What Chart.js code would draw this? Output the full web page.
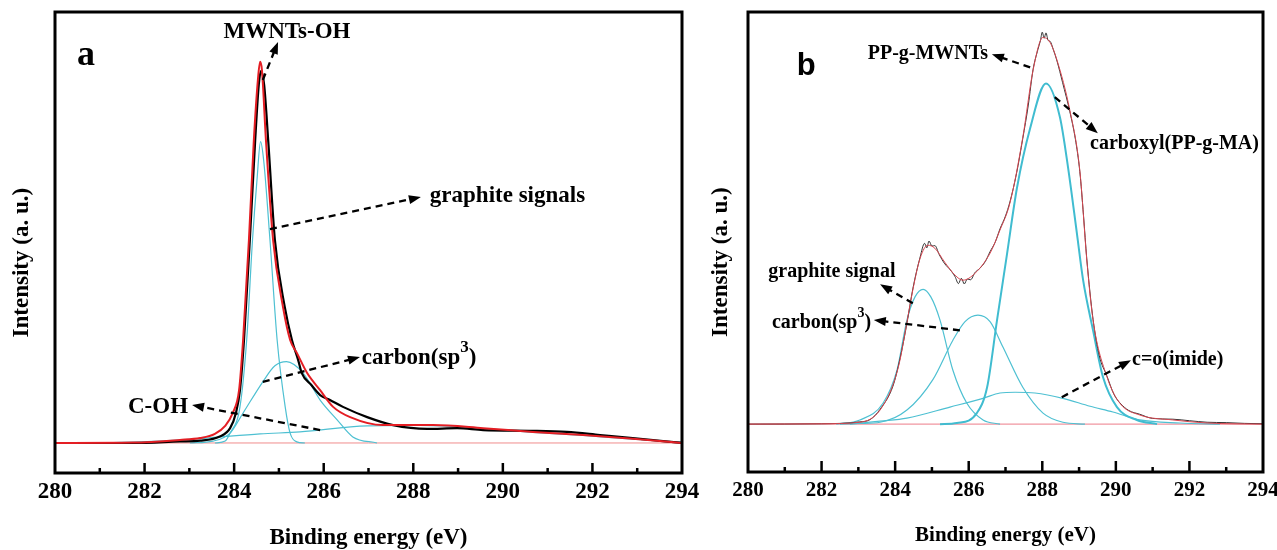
<!DOCTYPE html>
<html>
<head>
<meta charset="utf-8">
<script src="https://cdn.jsdelivr.net/npm/chart.js@4.4.0/dist/chart.umd.min.js"></script>
<style>
  html, body { margin: 0; padding: 0; background: #fff; }
  #wrapA { position: absolute; left: 0; top: 0; width: 700px; height: 550px; }
  #wrapB { position: absolute; left: 700px; top: 0; width: 577px; height: 550px; }
</style>
</head>
<body>
<div id="wrapA"><canvas id="chartA" width="700" height="550"></canvas></div>
<div id="wrapB"><canvas id="chartB" width="577" height="550"></canvas></div>
<script>
// binding energy (eV), intensity (a.u.)
const energyTicks = [280, 282, 284, 286, 288, 290, 292, 294];
const minorTicks = [281, 282, 283, 284, 285, 286, 287, 288, 289, 290, 291, 292, 293];

// panel a : MWNTs-OH
const aFit = [[280,0],[281.74,0.1],[282.79,0.8],[283.24,1.3],[283.57,2.4],[283.80,4.5],[283.97,7.9],[284.11,13.9],[284.20,27.1],[284.33,53.4],[284.44,79.7],[284.53,95.5],[284.58,100.3],[284.62,98.2],[284.71,79.7],[284.87,53.4],[285.09,35.8],[285.25,27.1],[285.40,23.7],[285.63,18.4],[285.92,13.9],[286.21,9.5],[286.59,6.8],[287.32,4.7],[288.44,4.7],[289.56,3.9],[290.67,2.9],[291.79,2.1],[292.90,1.1],[294,0]];
const aExp = [[280,0],[281.74,0],[282.79,0.4],[283.24,0.6],[283.68,1.7],[283.91,3.9],[284.04,7.9],[284.13,13.9],[284.22,27.1],[284.35,53.4],[284.47,79.7],[284.55,94.2],[284.60,97.9],[284.67,94.2],[284.76,79.7],[284.91,53.4],[285.13,35.8],[285.29,27.1],[285.43,21.8],[285.51,18.4],[285.72,15.3],[285.92,12.6],[286.14,11.3],[286.43,9.5],[286.97,6.8],[287.55,4.7],[288.31,3.7],[288.98,3.9],[289.56,3.4],[290.67,3.2],[291.43,2.9],[292.17,2.1],[292.90,1.3],[294,0]];
const aGraphite = [[283.57,0],[283.80,0.5],[283.91,2.6],[284.13,9.5],[284.28,27.1],[284.41,53.4],[284.51,69.2],[284.59,79.3],[284.66,74.3],[284.80,53.4],[284.96,27.1],[285.14,9.5],[285.25,2.6],[285.40,0.3],[285.58,0]];
const aSp3 = [[283.01,0],[283.53,0.5],[283.91,2.6],[284.20,7.9],[284.64,16.1],[284.91,20.3],[285.17,21.4],[285.54,18.4],[285.92,11.3],[286.30,6.1],[286.65,1.6],[287.19,0]];
const aCOH = [[281.00,0],[282.34,0.5],[283.39,1.3],[284.58,2.4],[285.47,2.9],[286.97,4.5],[288.15,4.6],[289.56,3.8],[290.67,2.8],[291.79,2.0],[292.90,1.0],[294,0.2]];

// panel b : PP-g-MWNTs
const bFit = [[280,0],[282.0,0.1],[283.04,0.5],[283.32,1.3],[283.59,3.7],[283.94,10.3],[284.13,16.8],[284.32,26.8],[284.48,35.3],[284.68,43.7],[284.89,47.1],[285.08,46.3],[285.35,42.6],[285.63,39.2],[285.84,37.9],[286.17,39.7],[286.58,45.0],[286.85,51.1],[287.12,58.2],[287.47,75.5],[287.75,93.2],[288.02,101.8],[288.21,100.5],[288.40,95.8],[288.75,82.6],[289.02,66.8],[289.21,43.2],[289.38,27.4],[289.76,12.4],[290.11,5.5],[290.65,2.4],[291.55,1.1],[292.48,0.3],[294,0]];
const bExp = [[280,0],[282.0,0.1],[283.04,0.6],[283.32,1.2],[283.59,3.9],[283.94,10.0],[284.13,17.2],[284.32,26.5],[284.48,35.6],[284.68,44.0],[284.80,47.6],[284.86,46.4],[284.92,48.2],[285.00,46.9],[285.08,47.0],[285.20,44.6],[285.35,42.2],[285.50,40.6],[285.63,38.8],[285.72,37.0],[285.80,38.4],[285.88,36.9],[285.96,38.2],[286.05,38.0],[286.17,39.9],[286.30,41.0],[286.45,42.8],[286.58,45.4],[286.72,47.9],[286.85,51.4],[287.00,54.8],[287.12,58.5],[287.30,66.0],[287.47,75.2],[287.62,84.0],[287.75,93.4],[287.88,98.6],[287.95,101.0],[288.00,103.2],[288.05,101.6],[288.10,103.0],[288.16,101.0],[288.21,100.8],[288.30,98.6],[288.40,95.6],[288.55,90.0],[288.75,82.2],[288.90,75.0],[289.02,66.5],[289.12,55.0],[289.21,43.5],[289.38,27.6],[289.55,18.0],[289.76,12.6],[289.95,7.8],[290.11,5.6],[290.35,3.6],[290.65,2.6],[291.00,1.5],[291.55,1.3],[292.00,0.9],[292.48,0.5],[293.00,0.4],[293.50,0.2],[294,0.1]];
const bGraphite = [[282.4,0],[283.04,1.1],[283.67,5.5],[284.05,14.2],[284.32,27.4],[284.54,33.5],[284.76,35.5],[284.97,33.5],[285.22,27.4],[285.57,14.2],[285.95,5.5],[286.39,1.1],[286.85,0]];
const bSp3 = [[282.5,0],[283.04,0.2],[283.59,0.5],[284.32,3.7],[285.03,11.8],[285.57,22.1],[285.90,27.0],[286.25,28.7],[286.58,27.0],[286.93,20.3],[287.47,9.7],[288.02,2.9],[288.56,0.5],[289.16,0]];
const bCarboxyl = [[285.22,0],[285.68,0.3],[286.22,2.9],[286.50,9.7],[286.77,27.4],[287.04,44.7],[287.31,62.1],[287.67,77.9],[288.10,89.7],[288.48,80.8],[288.70,67.6],[288.94,50.3],[289.11,37.9],[289.38,24.7],[289.65,12.4],[290.03,4.5],[290.57,1.1],[291.12,0]];
const bImide = [[282.77,0],[283.59,0.8],[284.32,1.6],[285.49,4.5],[286.39,6.8],[286.85,8.2],[287.26,8.4],[287.80,8.2],[288.56,6.8],[289.30,4.7],[289.92,3.2],[290.65,1.1],[291.74,0.3],[292.83,0]];
const baseLine = [[280,0],[294,0]];

// labels and arrows (eV, a.u.)
const aNotes = [
  { t: "MWNTs-OH", x: 285.18, y: 108.2, align: "center" },
  { t: "graphite signals", x: 288.37, y: 65.0 },
  { t: "carbon(sp", sup: "3", tail: ")", x: 286.85, y: 22.4 },
  { t: "C-OH", x: 281.63, y: 9.5 },
];
const aArrows = [[284.64,95.5,284.98,105.5],[284.80,56.3,288.17,64.7],[284.64,16.1,286.81,22.6],[285.92,3.4,283.06,10.0]];
const bNotes = [
  { t: "PP-g-MWNTs", x: 284.89, y: 97.6, align: "center" },
  { t: "carboxyl(PP-g-MA)", x: 289.30, y: 73.9 },
  { t: "graphite signal", x: 282.28, y: 40.0, align: "center" },
  { t: "carbon(sp", sup: "3", tail: ")", x: 280.65, y: 26.8 },
  { t: "c=o(imide)", x: 290.44, y: 16.8 },
];
const bArrows = [[287.67,93.9,286.63,97.4],[288.34,86.1,289.51,76.6],[284.48,31.8,283.59,36.8],[285.76,24.7,283.42,27.4],[288.53,7.1,290.41,16.8]];

const serif = "'Liberation Serif', 'Times New Roman', serif";
const CYAN = "rgb(78,192,210)";

function line(data, color, width, order) {
  return {
    data: data.map(p => ({ x: p[0], y: p[1] })),
    borderColor: color,
    borderWidth: width,
    pointRadius: 0,
    fill: false,
    cubicInterpolationMode: "monotone",
    order: order,
  };
}

function arrow(ctx, x1, y1, x2, y2) {
  const ang = Math.atan2(y2 - y1, x2 - x1);
  const head = 12, half = 4.5;
  const c = Math.cos(ang), s = Math.sin(ang);
  ctx.setLineDash([7, 5]);
  ctx.lineWidth = 2.3;
  ctx.beginPath();
  ctx.moveTo(x1, y1);
  ctx.lineTo(x2 - c * head * 0.8, y2 - s * head * 0.8);
  ctx.stroke();
  ctx.setLineDash([]);
  ctx.beginPath();
  ctx.moveTo(x2, y2);
  ctx.lineTo(x2 - head * c + half * s, y2 - head * s - half * c);
  ctx.lineTo(x2 - head * c - half * s, y2 - head * s + half * c);
  ctx.closePath();
  ctx.fill();
}

function note(ctx, n, px, py, size) {
  const big = "bold " + size + "px " + serif;
  const small = "bold " + Math.round(size * 0.72) + "px " + serif;
  ctx.textBaseline = "middle";
  ctx.textAlign = "left";
  ctx.font = big;
  const w = ctx.measureText(n.t).width;
  let supW = 0, tailW = 0;
  if (n.sup) {
    tailW = ctx.measureText(n.tail).width;
    ctx.font = small;
    supW = ctx.measureText(n.sup).width;
  }
  const total = w + supW + tailW;
  const sx = n.align === "center" ? px - total / 2 : px;
  ctx.font = big;
  ctx.fillText(n.t, sx, py);
  if (n.sup) {
    ctx.fillText(n.tail, sx + w + supW, py);
    ctx.font = small;
    ctx.fillText(n.sup, sx + w, py - size * 0.45);
  }
}

function decoPlugin(p) {
  return {
    id: "deco",
    afterDraw(chart) {
      const { ctx, chartArea: a } = chart;
      const xs = chart.scales.x, ys = chart.scales.y;
      ctx.save();
      ctx.strokeStyle = "#000";
      ctx.fillStyle = "#000";
      // inward ticks on bottom axis
      ctx.lineWidth = 2.5;
      minorTicks.forEach(v => {
        const px = xs.getPixelForValue(v);
        const len = v % 2 === 0 ? p.major : p.minor;
        ctx.beginPath();
        ctx.moveTo(px, a.bottom);
        ctx.lineTo(px, a.bottom - len);
        ctx.stroke();
      });
      ctx.lineWidth = 3;
      ctx.strokeRect(a.left, a.top, a.right - a.left, a.bottom - a.top);
      p.arrows.forEach(r => arrow(ctx,
        xs.getPixelForValue(r[0]), ys.getPixelForValue(r[1]),
        xs.getPixelForValue(r[2]), ys.getPixelForValue(r[3])));
      p.notes.forEach(n => note(ctx, n, xs.getPixelForValue(n.x), ys.getPixelForValue(n.y), p.noteSize));
      ctx.font = p.letterFont;
      ctx.textAlign = "center";
      ctx.textBaseline = "middle";
      ctx.fillText(p.letter, xs.getPixelForValue(p.letterX), ys.getPixelForValue(p.letterY));
      ctx.restore();
    },
  };
}

function makeChart(id, datasets, p) {
  return new Chart(document.getElementById(id), {
    type: "line",
    data: { datasets },
    options: {
      responsive: false,
      animation: false,
      devicePixelRatio: 1,
      layout: { padding: { left: 0, top: p.top, right: p.right, bottom: 0 } },
      plugins: { legend: { display: false }, tooltip: { enabled: false } },
      scales: {
        x: {
          type: "linear",
          min: 280,
          max: 294,
          afterBuildTicks: s => { s.ticks = energyTicks.map(v => ({ value: v })); },
          ticks: {
            color: "#000",
            maxRotation: 0,
            padding: p.tickPad,
            font: { family: serif, size: p.tickSize, weight: "bold" },
          },
          grid: { display: false, drawTicks: false },
          border: { display: false },
          title: {
            display: true,
            text: "Binding energy (eV)",
            color: "#000",
            font: { family: serif, size: p.titleSize, weight: "bold", lineHeight: 1 },
            padding: { top: 0, bottom: p.titlePad },
          },
          afterFit: s => {
            s.height = p.xH;
            s.paddingLeft = 0;
            s.paddingRight = 0;
          },
        },
        y: {
          type: "linear",
          min: p.yMin,
          max: p.yMax,
          ticks: { display: false },
          grid: { display: false, drawTicks: false },
          border: { display: false },
          title: {
            display: true,
            text: "Intensity (a. u.)       ",
            color: "#000",
            font: { family: serif, size: 23, weight: "bold", lineHeight: 1 },
            padding: { top: p.yTitlePad, bottom: 0 },
          },
          afterFit: s => { s.width = p.yW; },
        },
      },
    },
    plugins: [decoPlugin(p)],
  });
}

makeChart("chartA", [
  line(aFit, "rgb(228,30,36)", 2, 0),
  line(aExp, "#000", 2.2, 1),
  line(aGraphite, CYAN, 1.2, 2),
  line(aSp3, CYAN, 1.2, 3),
  line(aCOH, CYAN, 1.2, 4),
  line(baseLine, "rgb(240,140,140)", 1, 5),
], {
  top: 12, right: 18, yW: 55, xH: 77, yMin: -7.9, yMax: 113.4,
  tickSize: 23, tickPad: 5, titleSize: 23, titlePad: 0, yTitlePad: 11,
  major: 10, minor: 5, noteSize: 23,
  notes: aNotes, arrows: aArrows,
  letter: "a", letterFont: "bold 36px " + serif, letterX: 280.69, letterY: 101.8,
});

makeChart("chartB", [
  line(bFit, "rgb(214,70,80)", 1, 0),
  line(bExp, "#333", 1, 1),
  line(bCarboxyl, "rgb(64,188,208)", 2, 2),
  line(bGraphite, CYAN, 1.2, 3),
  line(bSp3, CYAN, 1.2, 4),
  line(bImide, CYAN, 1.2, 5),
  line(baseLine, "rgb(240,150,160)", 1.2, 6),
], {
  top: 12, right: 14, yW: 48, xH: 78, yMin: -12.6, yMax: 108.5,
  tickSize: 21, tickPad: 6, titleSize: 21, titlePad: 4, yTitlePad: 10,
  major: 11, minor: 5, noteSize: 20,
  notes: bNotes, arrows: bArrows,
  letter: "b", letterFont: "bold 31px 'Liberation Sans', Arial, sans-serif", letterX: 281.58, letterY: 94.2,
});
</script>
</body>
</html>
